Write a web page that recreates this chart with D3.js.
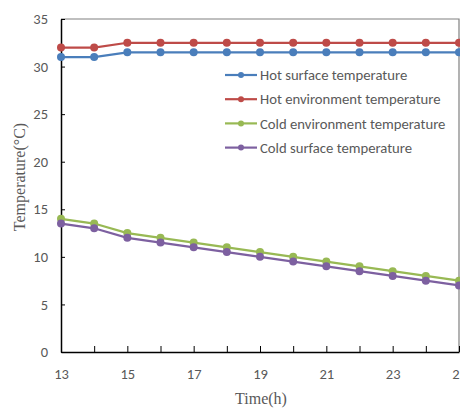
<!DOCTYPE html>
<html lang="en">
<head>
<meta charset="UTF-8">
<title>Temperature vs time</title>
<script src="https://d3js.org/d3.v7.min.js"></script>
<style>
    body { margin: 0; padding: 0; background: #fff; overflow: hidden; }
    svg { display: block; }
    .tick text { font-family: Carlito, Calibri, 'Open Sans', sans-serif; font-size: 14.5px; fill: #595959; }
    .legend text { font-family: Carlito, Calibri, 'Open Sans', sans-serif; font-size: 14.7px; fill: #595959; }
    .title { font-family: 'Liberation Serif', 'DejaVu Serif', serif; font-size: 16px; fill: #595959; }
</style>
</head>
<body>
<div id="chart"></div>
<script>
    const hours = [13, 14, 15, 16, 17, 18, 19, 20, 21, 22, 23, 24, 25];
    const hotSurface = [31, 31, 31.5, 31.5, 31.5, 31.5, 31.5, 31.5, 31.5, 31.5, 31.5, 31.5, 31.5];
    const hotEnv = [32, 32, 32.5, 32.5, 32.5, 32.5, 32.5, 32.5, 32.5, 32.5, 32.5, 32.5, 32.5];
    const coldEnv = [14, 13.5, 12.5, 12, 11.5, 11, 10.5, 10, 9.5, 9, 8.5, 8, 7.5];
    const coldSurface = [13.5, 13, 12, 11.5, 11, 10.5, 10, 9.5, 9, 8.5, 8, 7.5, 7];
    const xTicks = [13, 15, 17, 19, 21, 23, 25];
    const yTicks = [0, 5, 10, 15, 20, 25, 30, 35];

    const series = [
        { name: 'Hot surface temperature', values: hotSurface, color: '#4a7ebb' },
        { name: 'Hot environment temperature', values: hotEnv, color: '#be4b48' },
        { name: 'Cold environment temperature', values: coldEnv, color: '#98b954' },
        { name: 'Cold surface temperature', values: coldSurface, color: '#7d60a0' }
    ];

    const width = 460, height = 410;
    const margin = { top: 19, right: 1, bottom: 58, left: 61 };

    const svg = d3.select('#chart').append('svg')
        .attr('width', width)
        .attr('height', height);

    const x = d3.scaleLinear().domain([13, 25]).range([margin.left, width - margin.right]);
    const y = d3.scaleLinear().domain([0, 35]).range([height - margin.bottom, margin.top]);

    // gray frame on top and right
    svg.append('path')
        .attr('d', `M${x(13)},${y(35)}H${x(25)}V${y(0)}`)
        .attr('fill', 'none')
        .attr('stroke', '#808080')
        .attr('stroke-width', 1.2);

    const xAxis = svg.append('g')
        .attr('transform', `translate(0,${y(0)})`)
        .call(d3.axisBottom(x).tickValues(hours).tickSizeInner(-6).tickSizeOuter(0)
            .tickFormat(d => xTicks.includes(d) ? d : ''));
    xAxis.select('.domain').attr('stroke', '#000').attr('stroke-width', 1.5);
    xAxis.selectAll('.tick line').attr('stroke', '#000');
    xAxis.selectAll('.tick text').attr('dy', '1.65em');

    const yAxis = svg.append('g')
        .attr('transform', `translate(${x(13)},0)`)
        .call(d3.axisLeft(y).tickValues(yTicks).tickSizeInner(-4).tickSizeOuter(0));
    yAxis.select('.domain').attr('stroke', '#000').attr('stroke-width', 1.5);
    yAxis.selectAll('.tick line').attr('stroke', '#000');
    yAxis.selectAll('.tick text').attr('x', -13);

    const line = d3.line()
        .x((d, i) => x(hours[i]))
        .y(d => y(d));

    series.forEach(s => {
        svg.append('path')
            .datum(s.values)
            .attr('d', line)
            .attr('fill', 'none')
            .attr('stroke', s.color)
            .attr('stroke-width', 2.2);
        svg.append('g')
            .selectAll('circle')
            .data(s.values)
            .join('circle')
            .attr('cx', (d, i) => x(hours[i]))
            .attr('cy', d => y(d))
            .attr('r', 4)
            .attr('fill', s.color);
    });

    // legend
    const legend = svg.append('g').attr('class', 'legend')
        .attr('transform', 'translate(225,75)');
    series.forEach((s, i) => {
        const row = legend.append('g').attr('transform', `translate(0,${i * 24.2})`);
        row.append('line')
            .attr('x1', 0).attr('x2', 32)
            .attr('stroke', s.color).attr('stroke-width', 2.2);
        row.append('circle').attr('cx', 16).attr('r', 3).attr('fill', s.color);
        row.append('text').attr('x', 35).attr('dy', '0.35em').text(s.name);
    });

    svg.append('text')
        .attr('class', 'title')
        .attr('text-anchor', 'middle')
        .attr('x', 261)
        .attr('y', 404)
        .text('Time(h)');

    svg.append('text')
        .attr('class', 'title')
        .attr('text-anchor', 'middle')
        .attr('transform', 'translate(25,177) rotate(-90)')
        .text('Temperature(°C)');
</script>
</body>
</html>
